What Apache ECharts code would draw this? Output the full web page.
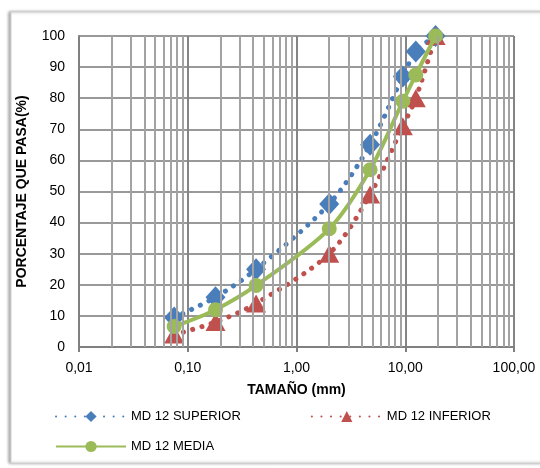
<!DOCTYPE html>
<html>
<head>
<meta charset="utf-8">
<script src="https://cdn.jsdelivr.net/npm/echarts@6/dist/echarts.min.js"></script>
<style>
  html, body { margin: 0; padding: 0; background: #fff; }
  #chart { width: 540px; height: 468px; }
</style>
</head>
<body>
<div id="chart"></div>
<script>
// sieve sizes (mm)
const sizes = [0.075, 0.18, 0.425, 2.0, 4.75, 9.5, 12.5, 19.0];
const superior = [9.5, 16, 25, 46, 65, 87, 95, 100];
const inferior = [4, 8, 14, 30, 49, 71, 80, 100];
const media = [6.6, 12, 19.8, 38, 57, 79, 87.5, 100];
// minor vertical grid lines of the log axis
const minorLines = [0.02, 0.03, 0.04, 0.05, 0.06, 0.07, 0.08, 0.09,
    0.2, 0.3, 0.4, 0.5, 0.6, 0.7, 0.8, 0.9,
    2, 3, 4, 5, 6, 7, 8, 9,
    20, 30, 40, 50, 60, 70, 80, 90];

const font = 'Liberation Sans, Arial, sans-serif';
const pairs = (ys) => sizes.map((x, i) => [x, ys[i]]);

window.addEventListener('DOMContentLoaded', () => {
    const myChart = echarts.init(document.getElementById('chart'));

    myChart.setOption({
        animation: false,
        textStyle: { fontFamily: font },
        graphic: [
            {
                type: 'rect',
                shape: { x: 11, y: 12, width: 540, height: 451 },
                style: {
                    fill: '#fff',
                    stroke: '#d4d4d4',
                    lineWidth: 1,
                    shadowColor: 'rgba(0,0,0,0.35)',
                    shadowBlur: 3,
                    shadowOffsetX: -2
                },
                z: -10
            }
        ],
        grid: { left: 79, right: 26, top: 36, bottom: 121 },
        legend: [
            {
                data: ['MD 12 SUPERIOR', 'MD 12 INFERIOR'],
                left: 50,
                top: 405,
                itemWidth: 70,
                itemHeight: 14,
                itemGap: 70,
                textStyle: { fontSize: 13, color: '#000', fontFamily: font }
            },
            {
                data: ['MD 12 MEDIA'],
                left: 50,
                top: 435,
                itemWidth: 70,
                itemHeight: 14,
                textStyle: { fontSize: 13, color: '#000', fontFamily: font }
            }
        ],
        xAxis: {
            type: 'log',
            logBase: 10,
            min: 0.01,
            max: 100,
            name: 'TAMAÑO (mm)',
            nameLocation: 'middle',
            nameGap: 36,
            nameTextStyle: { fontWeight: 'bold', fontSize: 14, color: '#000' },
            axisLine: { lineStyle: { color: '#808080', width: 2 } },
            axisTick: { show: true, length: 5, lineStyle: { color: '#808080', width: 2 } },
            axisLabel: {
                fontSize: 14,
                color: '#000',
                margin: 14,
                formatter: (v) => v.toFixed(2).replace('.', ',')
            },
            splitLine: { show: true, lineStyle: { color: '#858585', width: 2 } }
        },
        yAxis: {
            type: 'value',
            min: 0,
            max: 100,
            interval: 10,
            name: 'PORCENTAJE QUE PASA(%)',
            nameLocation: 'middle',
            nameGap: 50,
            nameTextStyle: { fontWeight: 'bold', fontSize: 14, color: '#000' },
            axisLine: { show: true, lineStyle: { color: '#808080', width: 2 } },
            axisTick: { show: false },
            axisLabel: { fontSize: 14, color: '#000', margin: 14 },
            splitLine: { show: true, lineStyle: { color: '#999999', width: 2 } }
        },
        series: [
            {
                name: 'grid',
                type: 'line',
                data: [],
                silent: true,
                markLine: {
                    silent: true,
                    symbol: 'none',
                    label: { show: false },
                    lineStyle: { color: '#a3a3a3', type: 'solid', width: 2 },
                    data: minorLines.map((v) => ({ xAxis: v }))
                },
                z: 0
            },
            {
                name: 'MD 12 SUPERIOR',
                type: 'line',
                smooth: 0.3,
                data: pairs(superior),
                symbol: 'diamond',
                symbolSize: [20, 22],
                itemStyle: { color: '#4a7ebb' },
                lineStyle: { color: '#4a7ebb', width: 5, type: [0.1, 9.5], cap: 'round' },
                z: 3
            },
            {
                name: 'MD 12 INFERIOR',
                type: 'line',
                smooth: 0.3,
                data: pairs(inferior),
                symbol: 'triangle',
                symbolSize: [20, 18],
                itemStyle: { color: '#c0504d' },
                lineStyle: { color: '#c0504d', width: 5, type: [0.1, 9.5], cap: 'round' },
                z: 3
            },
            {
                name: 'MD 12 MEDIA',
                type: 'line',
                smooth: 0.3,
                data: pairs(media),
                symbol: 'circle',
                symbolSize: 15,
                itemStyle: { color: '#9bbb59' },
                lineStyle: { color: '#9bbb59', width: 4 },
                z: 4
            }
        ]
    });
});
</script>
</body>
</html>
